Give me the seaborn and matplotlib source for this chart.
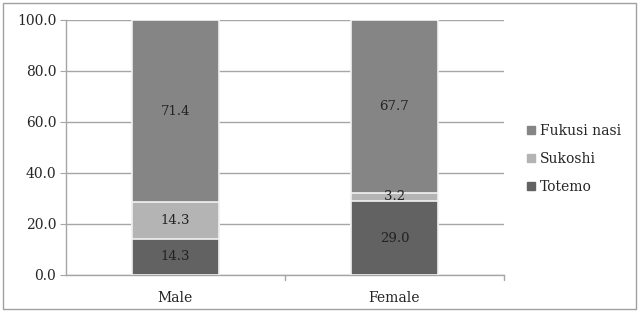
import numpy as np
import pandas as pd
import matplotlib
matplotlib.use("Agg")
import matplotlib.pyplot as plt
from matplotlib.lines import Line2D
from matplotlib.patches import Rectangle
import seaborn as sns


# Data
groups = ["Male", "Female"]
totemo = [14.3, 29.0]
sukoshi = [14.3, 3.2]
fukusi_nasi = [71.4, 67.7]

levels = ["Totemo", "Sukoshi", "Fukusi nasi"]
colors = {"Totemo": "#626262", "Sukoshi": "#b4b4b4", "Fukusi nasi": "#858585"}

df = pd.DataFrame({
    "group": groups,
    "Totemo": totemo,
    "Sukoshi": sukoshi,
    "Fukusi nasi": fukusi_nasi,
})

# cumulative tops, drawn back to front
df["top_totemo"] = df["Totemo"]
df["top_sukoshi"] = df["Totemo"] + df["Sukoshi"]
df["top_fukusi"] = df["top_sukoshi"] + df["Fukusi nasi"]

sns.set_style("white")
plt.rcParams["font.family"] = ["DejaVu Serif"]

fig = plt.figure(figsize=(6.4, 3.12), dpi=100)
ax = fig.add_axes([0.103, 0.1186, 0.6845, 0.8174])

for col, lev in [("top_fukusi", "Fukusi nasi"), ("top_sukoshi", "Sukoshi"), ("top_totemo", "Totemo")]:
    sns.barplot(data=df, x="group", y=col, color=colors[lev], width=0.4,
                edgecolor="#f2f2f2", linewidth=1.2, ax=ax, zorder=3)

# value labels in the middle of each segment
for i in range(len(groups)):
    base = 0
    for lev in levels:
        v = df.loc[i, lev]
        ax.text(i, base + v / 2, f"{v:.1f}", ha="center", va="center",
                fontsize=9.5, color="#222222", zorder=5)
        base += v

ax.set_ylim(0, 100)
ax.set_xlim(-0.5, 1.5)
ax.set_yticks(np.arange(0, 101, 20))
ax.set_yticklabels([f"{t:.1f}" for t in np.arange(0, 101, 20)], fontsize=10)
ax.set_xticks([0, 1])
ax.set_xticklabels(groups, fontsize=10)
ax.set_xlabel("")
ax.set_ylabel("")

ax.yaxis.grid(True, color="#a6a6a6", linewidth=1.0, zorder=0)
ax.set_axisbelow(True)
for s in ["top", "right"]:
    ax.spines[s].set_visible(False)
for s in ["left", "bottom"]:
    ax.spines[s].set_color("#a6a6a6")
    ax.spines[s].set_linewidth(1.0)

ax.tick_params(axis="y", left=True, length=4, color="#a6a6a6", pad=3)
ax.tick_params(axis="x", bottom=False, pad=8)
# category separator ticks like Excel
for xt in [0.5, 1.5]:
    ax.plot([xt, xt], [0, -2], color="#a6a6a6", lw=1.0, clip_on=False)

handles = [Line2D([0], [0], marker="s", linestyle="", markersize=6,
                  markerfacecolor=colors[l], markeredgecolor=colors[l], label=l)
           for l in ["Fukusi nasi", "Sukoshi", "Totemo"]]
fig.legend(handles=handles, loc="center left", bbox_to_anchor=(0.811, 0.49),
           frameon=False, fontsize=10, handletextpad=0.2, labelspacing=1.0,
           handlelength=0.9, borderaxespad=0)

fig.patches.append(Rectangle((0.004, 0.01), 0.99, 0.98, transform=fig.transFigure,
                             fill=False, edgecolor="#a0a0a0", linewidth=1.0))

fig.savefig("out.png", dpi=100)
